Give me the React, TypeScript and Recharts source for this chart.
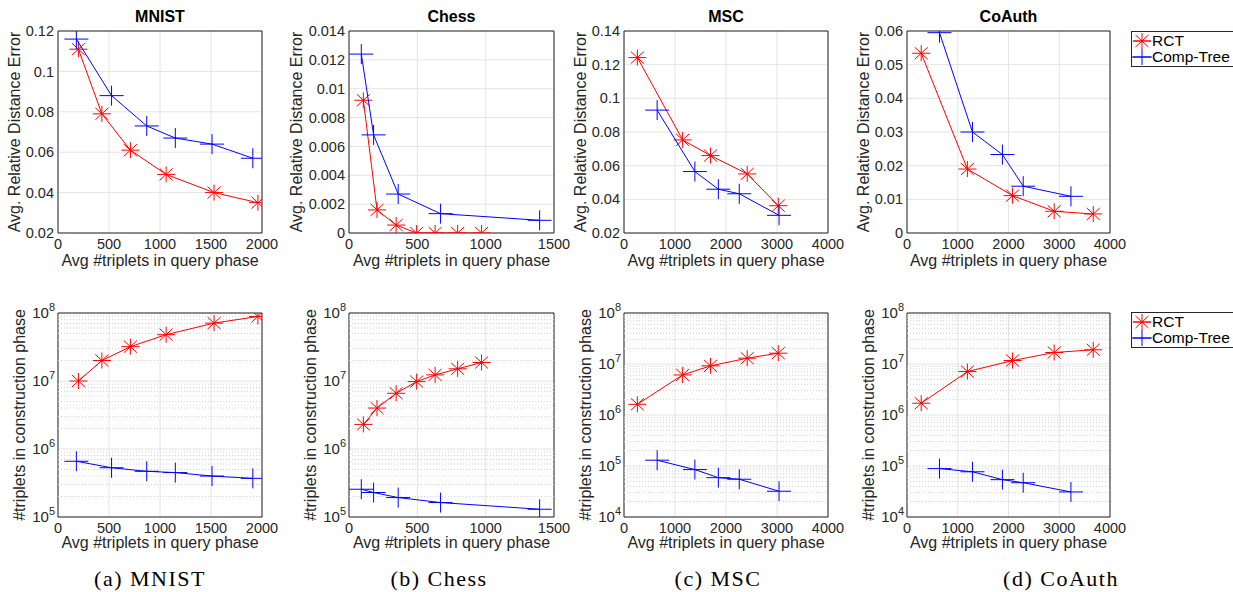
import React from 'react';
import {
  ScatterChart,
  Scatter,
  XAxis,
  YAxis,
  CartesianGrid,
  ReferenceArea,
  ReferenceLine,
} from 'recharts';

/* ---------- data ---------- */

// MNIST
const mnistRctQuery = [200, 430, 710, 1060, 1530, 1960];
const mnistRctError = [0.111, 0.079, 0.061, 0.049, 0.04, 0.035];
const mnistRctBuild = [1.0e7, 2.0e7, 3.2e7, 4.8e7, 7.1e7, 8.9e7];
const mnistTreeQuery = [180, 525, 870, 1150, 1510, 1910];
const mnistTreeError = [0.116, 0.088, 0.073, 0.067, 0.064, 0.057];
const mnistTreeBuild = [6.6e5, 5.3e5, 4.7e5, 4.5e5, 4.0e5, 3.7e5];

// Chess
const chessRctQuery = [105, 205, 345, 495, 630, 795, 970];
const chessRctError = [0.0092, 0.0016, 0.00055, 0, 0, 0, 0];
const chessRctBuild = [2.3e6, 4.0e6, 6.6e6, 9.8e6, 1.23e7, 1.51e7, 1.87e7];
const chessTreeQuery = [90, 180, 360, 670, 1395];
const chessTreeError = [0.0124, 0.0068, 0.0027, 0.00134, 0.00088];
const chessTreeBuild = [2.56e5, 2.29e5, 1.93e5, 1.63e5, 1.3e5];

// MSC
const mscRctQuery = [262, 1150, 1696, 2416, 3025];
const mscRctError = [0.1242, 0.0753, 0.066, 0.0551, 0.0362];
const mscRctBuild = [1.62e6, 6.1e6, 9.2e6, 1.3e7, 1.63e7];
const mscTreeQuery = [650, 1390, 1850, 2260, 3040];
const mscTreeError = [0.093, 0.0565, 0.046, 0.0433, 0.0305];
const mscTreeBuild = [1.3e5, 8.5e4, 5.9e4, 5.5e4, 3.2e4];

// CoAuth
const coRctQuery = [280, 1190, 2080, 2900, 3670];
const coRctError = [0.0534, 0.019, 0.0111, 0.00645, 0.00565];
const coRctBuild = [1.7e6, 7.1e6, 1.17e7, 1.68e7, 1.9e7];
const coTreeQuery = [640, 1290, 1880, 2290, 3230];
const coTreeError = [0.0595, 0.03, 0.0233, 0.0139, 0.0109];
const coTreeBuild = [8.9e4, 7.7e4, 5.4e4, 4.7e4, 3.1e4];

// axes
const titles = ['MNIST', 'Chess', 'MSC', 'CoAuth'];
const captions = ['(a) MNIST', '(b) Chess', '(c) MSC', '(d) CoAuth'];
const xTicks2000 = [0, 500, 1000, 1500, 2000];
const xTicks1500 = [0, 500, 1000, 1500];
const xTicks4000 = [0, 1000, 2000, 3000, 4000];
const mnistErrTicks = [0.02, 0.04, 0.06, 0.08, 0.1, 0.12];
const chessErrTicks = [0, 0.002, 0.004, 0.006, 0.008, 0.01, 0.012, 0.014];
const mscErrTicks = [0.02, 0.04, 0.06, 0.08, 0.1, 0.12, 0.14];
const coErrTicks = [0, 0.01, 0.02, 0.03, 0.04, 0.05, 0.06];
const decades5to8 = [1e5, 1e6, 1e7, 1e8];
const decades4to8 = [1e4, 1e5, 1e6, 1e7, 1e8];

/* ---------- styling ---------- */

const FONT = '"Liberation Sans", Arial, Helvetica, sans-serif';
const INK = '#262626';
const GRID = '#e4e4e4';
const RED = '#ff0000';
const BLUE = '#0000ff';

const colLeft = [58, 349, 624, 907];
const colRight = [262, 554, 828, 1110];
const rowTop = [31, 313];
const rowBottom = [233, 517];
const yLabelX = [[15, 297, 581, 864], [20, 311, 586, 869]];
const captionX = [150, 439, 718, 1061];

type Pt = { x: number; y: number };
const zip = (xs: number[], ys: number[]): Pt[] => xs.map((x, i) => ({ x, y: ys[i] }));

const minorsOf = (decades: number[]) => {
  const out: number[] = [];
  for (let i = 0; i < decades.length - 1; i++) {
    for (let m = 2; m <= 9; m++) out.push(m * decades[i]);
  }
  return out;
};

function StarMark(props: any) {
  const { cx, cy } = props;
  if (cx == null || cy == null) return <g />;
  return (
    <path
      d={`M${cx - 9},${cy}H${cx + 9}M${cx},${cy - 8}V${cy + 8}M${cx - 6.5},${cy - 6}L${cx + 6.5},${cy + 6}M${cx - 6.5},${cy + 6}L${cx + 6.5},${cy - 6}`}
      stroke={RED}
      strokeWidth={1}
      fill="none"
    />
  );
}

function PlusMark(props: any) {
  const { cx, cy } = props;
  if (cx == null || cy == null) return <g />;
  return (
    <path
      d={`M${cx - 12},${cy}H${cx + 12}M${cx},${cy - 10}V${cy + 10}`}
      stroke={BLUE}
      strokeWidth={1}
      fill="none"
    />
  );
}

function PowTick(props: any) {
  const { x, y, payload } = props;
  const exp = Math.round(Math.log10(payload.value));
  return (
    <text x={x} y={y} dy={5} textAnchor="end" fill={INK} fontSize={15} fontFamily={FONT}>
      10
      <tspan dy={-7} fontSize={11}>
        {exp}
      </tspan>
    </text>
  );
}

interface PanelProps {
  col: number;
  row: number;
  xDomain: [number, number];
  xTicks: number[];
  yDomain: [number, number];
  yTicks: number[];
  log?: boolean;
  rct: Pt[];
  tree: Pt[];
}

function Panel({ col, row, xDomain, xTicks, yDomain, yTicks, log, rct, tree }: PanelProps) {
  const yW = 62;
  const xH = 30;
  const padT = 18;
  const padR = 26;
  const pl = colLeft[col];
  const pw = colRight[col] - pl;
  const pt = rowTop[row];
  const ph = rowBottom[row] - pt;
  const minors = log ? minorsOf(yTicks) : [];

  return (
    <div style={{ position: 'absolute', left: pl - yW, top: pt - padT }}>
      <ScatterChart
        width={pw + yW + padR}
        height={ph + padT + xH}
        margin={{ top: padT, right: padR, bottom: 0, left: 0 }}
      >
        <CartesianGrid stroke={GRID} />
        {minors.map((v) => (
          <ReferenceLine key={v} y={v} stroke="#d2d2d2" strokeDasharray="1 2" />
        ))}
        <XAxis
          type="number"
          dataKey="x"
          domain={xDomain}
          ticks={xTicks}
          allowDataOverflow
          interval={0}
          height={xH}
          axisLine={false}
          tickLine={false}
          tickSize={3}
          tickMargin={3}
          tick={{ fontSize: 14.5, fill: INK, fontFamily: FONT }}
        />
        <YAxis
          type="number"
          dataKey="y"
          domain={yDomain}
          ticks={yTicks}
          scale={log ? 'log' : 'linear'}
          allowDataOverflow
          interval={0}
          width={yW}
          axisLine={false}
          tickLine={false}
          tickSize={log ? 1 : 2}
          tickMargin={2}
          tick={log ? <PowTick /> : { fontSize: 14.5, fill: INK, fontFamily: FONT }}
          tickFormatter={(v: number) => String(v)}
        />
        <ReferenceArea
          x1={xDomain[0]}
          x2={xDomain[1]}
          y1={yDomain[0]}
          y2={yDomain[1]}
          fill="none"
          fillOpacity={0}
          stroke={INK}
          strokeWidth={1}
          ifOverflow="visible"
        />
        <Scatter
          data={rct}
          line={{ stroke: RED, strokeWidth: 1 }}
          lineType="joint"
          shape={<StarMark />}
          isAnimationActive={false}
        />
        <Scatter
          data={tree}
          line={{ stroke: BLUE, strokeWidth: 1 }}
          lineType="joint"
          shape={<PlusMark />}
          isAnimationActive={false}
        />
      </ScatterChart>
    </div>
  );
}

function Legend({ top }: { top: number }) {
  const rowStyle: React.CSSProperties = {
    display: 'flex',
    alignItems: 'center',
    height: 16,
  };
  return (
    <div
      style={{
        position: 'absolute',
        left: 1131,
        top,
        width: 104,
        height: 36,
        border: `1px solid ${INK}`,
        background: '#fff',
        fontFamily: FONT,
        fontSize: 15.5,
        color: '#000',
        boxSizing: 'border-box',
        paddingTop: 1,
      }}
    >
      <div style={rowStyle}>
        <svg width={20} height={16}>
          <line x1={1} y1={8} x2={19} y2={8} stroke={RED} />
          <StarMark cx={10} cy={8} />
        </svg>
        <span>RCT</span>
      </div>
      <div style={rowStyle}>
        <svg width={20} height={16}>
          <line x1={1} y1={8} x2={19} y2={8} stroke={BLUE} />
          <PlusMark cx={10} cy={8} />
        </svg>
        <span>Comp-Tree</span>
      </div>
    </div>
  );
}

export default function App() {
  const errPanels = [
    { xDomain: [0, 2000], xTicks: xTicks2000, yDomain: [0.02, 0.12], yTicks: mnistErrTicks, rct: zip(mnistRctQuery, mnistRctError), tree: zip(mnistTreeQuery, mnistTreeError) },
    { xDomain: [0, 1500], xTicks: xTicks1500, yDomain: [0, 0.014], yTicks: chessErrTicks, rct: zip(chessRctQuery, chessRctError), tree: zip(chessTreeQuery, chessTreeError) },
    { xDomain: [0, 4000], xTicks: xTicks4000, yDomain: [0.02, 0.14], yTicks: mscErrTicks, rct: zip(mscRctQuery, mscRctError), tree: zip(mscTreeQuery, mscTreeError) },
    { xDomain: [0, 4000], xTicks: xTicks4000, yDomain: [0, 0.06], yTicks: coErrTicks, rct: zip(coRctQuery, coRctError), tree: zip(coTreeQuery, coTreeError) },
  ];
  const buildPanels = [
    { xDomain: [0, 2000], xTicks: xTicks2000, yDomain: [1e5, 1e8], yTicks: decades5to8, rct: zip(mnistRctQuery, mnistRctBuild), tree: zip(mnistTreeQuery, mnistTreeBuild) },
    { xDomain: [0, 1500], xTicks: xTicks1500, yDomain: [1e5, 1e8], yTicks: decades5to8, rct: zip(chessRctQuery, chessRctBuild), tree: zip(chessTreeQuery, chessTreeBuild) },
    { xDomain: [0, 4000], xTicks: xTicks4000, yDomain: [1e4, 1e8], yTicks: decades4to8, rct: zip(mscRctQuery, mscRctBuild), tree: zip(mscTreeQuery, mscTreeBuild) },
    { xDomain: [0, 4000], xTicks: xTicks4000, yDomain: [1e4, 1e8], yTicks: decades4to8, rct: zip(coRctQuery, coRctBuild), tree: zip(coTreeQuery, coTreeBuild) },
  ];

  const label = (text: string, x: number, y: number, rotate = false, extra: React.CSSProperties = {}) => (
    <div
      key={`${text}-${x}-${y}`}
      style={{
        position: 'absolute',
        left: x,
        top: y,
        transform: `translate(-50%, -50%)${rotate ? ' rotate(-90deg)' : ''}`,
        whiteSpace: 'nowrap',
        fontFamily: FONT,
        fontSize: 16,
        color: INK,
        lineHeight: 1,
        ...extra,
      }}
    >
      {text}
    </div>
  );

  return (
    <div style={{ position: 'absolute', left: 0, top: 0, width: 1233, height: 592, background: '#fff', overflow: 'hidden' }}>
      {errPanels.map((p, i) => (
        <Panel key={`e${i}`} col={i} row={0} {...(p as any)} />
      ))}
      {buildPanels.map((p, i) => (
        <Panel key={`b${i}`} col={i} row={1} log {...(p as any)} />
      ))}

      {titles.map((t, i) =>
        label(t, (colLeft[i] + colRight[i]) / 2, 17, false, { fontWeight: 'bold', color: '#000' })
      )}
      {colLeft.map((l, i) => label('Avg #triplets in query phase', (l + colRight[i]) / 2, 261))}
      {colLeft.map((l, i) => label('Avg #triplets in query phase', (l + colRight[i]) / 2, 543))}
      {yLabelX[0].map((x) => label('Avg. Relative Distance Error', x, 132, true))}
      {yLabelX[1].map((x) => label('#triplets in construction phase', x, 415, true))}
      {captions.map((c, i) =>
        label(c, captionX[i], 579, false, {
          fontFamily: '"Liberation Serif", "Times New Roman", serif',
          fontSize: 22,
          letterSpacing: 1.5,
          color: '#000',
        })
      )}

      <Legend top={31} />
      <Legend top={312} />
    </div>
  );
}
